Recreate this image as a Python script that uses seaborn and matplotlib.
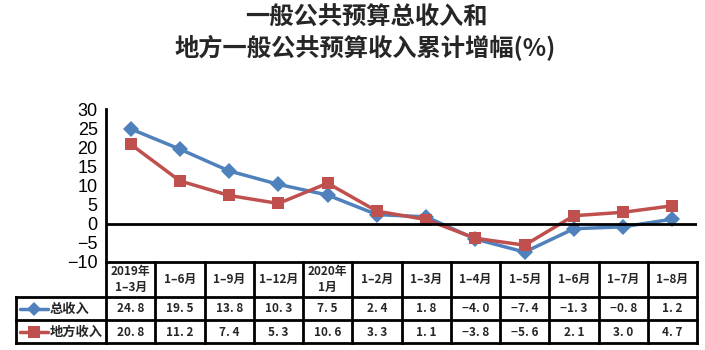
import numpy as np
import pandas as pd
import matplotlib
matplotlib.use("Agg")
import matplotlib.pyplot as plt
import seaborn as sns

periods = ["2019年\n1–3月", "1–6月", "1–9月", "1–12月", "2020年\n1月", "1–2月",
           "1–3月", "1–4月", "1–5月", "1–6月", "1–7月", "1–8月"]
total = [24.8, 19.5, 13.8, 10.3, 7.5, 2.4, 1.8, -4.0, -7.4, -1.3, -0.8, 1.2]
local = [20.8, 11.2, 7.4, 5.3, 10.6, 3.3, 1.1, -3.8, -5.6, 2.1, 3.0, 4.7]
series_names = ["总收入", "地方收入"]
yticks = [-10, -5, 0, 5, 10, 15, 20, 25, 30]
title_lines = ["一般公共预算总收入和", "地方一般公共预算收入累计增幅(%)"]

BLUE = "#4F81BD"
RED = "#C0504D"

sns.set_theme(style="white")
plt.rcParams["font.family"] = ["Noto Sans CJK SC", "DejaVu Sans"]

W, H = 705, 350
fig = plt.figure(figsize=(7.05, 3.5), dpi=100)
fig.patch.set_facecolor("white")


def fx(px):
    return px / W


def fy(py):
    return 1 - py / H


L, R, T, B = 106, 697, 109, 262
ax = fig.add_axes([fx(L), fy(B), fx(R) - fx(L), fy(T) - fy(B)])
n = len(periods)
df = pd.DataFrame({
    "x": list(range(n)) * 2,
    "v": total + local,
    "s": [series_names[0]] * n + [series_names[1]] * n,
})
sns.lineplot(data=df, x="x", y="v", hue="s", style="s",
             markers={series_names[0]: "D", series_names[1]: "s"},
             dashes=False, palette={series_names[0]: BLUE, series_names[1]: RED},
             linewidth=2.5, markersize=8.5, markeredgewidth=0, legend=False, ax=ax)
ax.set_xlim(-0.5, n - 0.5)
ax.set_ylim(-10, 30)
ax.set_yticks(yticks)
ax.set_yticklabels([str(t).replace("-", "−") for t in yticks],
                   fontfamily="Liberation Sans", fontsize=13)
ax.set_xticks([])
ax.set_xlabel("")
ax.set_ylabel("")
for s in ["top", "right", "bottom"]:
    ax.spines[s].set_visible(False)
ax.spines["left"].set_color("black")
ax.spines["left"].set_linewidth(2)
ax.axhline(0, color="black", lw=2)
ax.tick_params(axis="y", direction="in", length=6, width=2, pad=6, colors="black")
ax.set_facecolor("white")

# table
TL, TB = 16, 343
tab = fig.add_axes([fx(TL), fy(TB), fx(R) - fx(TL), fy(B) - fy(TB)])
w = (R - L) / n
x0 = -0.5 - (L - TL) / w
tab.set_xlim(x0, n - 0.5)
tab.set_ylim(TB - B, 0)
tab.axis("off")
hdr, r1, r2 = 35, 58, TB - B
lk = dict(color="black", lw=2, clip_on=False, solid_capstyle="projecting")
tab.plot([-0.5, n - 0.5], [0, 0], **lk)
for yy in [hdr, r1, r2]:
    tab.plot([x0, n - 0.5], [yy, yy], **lk)
tab.plot([x0, x0], [hdr, r2], **lk)
for i in range(n + 1):
    tab.plot([i - 0.5, i - 0.5], [0, r2], **lk)

for i, p in enumerate(periods):
    tab.text(i, hdr / 2, p, ha="center", va="center", fontsize=8.5,
             fontweight="bold", linespacing=1.3)


def fmt(v):
    return f"{v:.1f}".replace("-", "−").replace(".", ". ")


for row, (vals, ymid) in enumerate([(total, (hdr + r1) / 2), (local, (r1 + r2) / 2)]):
    for i, v in enumerate(vals):
        tab.text(i, ymid + 0.5, fmt(v), ha="center", va="center", fontsize=8.5,
                 fontweight="bold")


def px2x(px):
    return x0 + (px - TL) / w


for name, col, mk, ymid in [(series_names[0], BLUE, "D", (hdr + r1) / 2),
                             (series_names[1], RED, "s", (r1 + r2) / 2)]:
    tab.plot([px2x(20), px2x(48)], [ymid, ymid], color=col, lw=2.5, clip_on=False)
    tab.plot([px2x(34)], [ymid], marker=mk, color=col, markersize=7 if mk == "D" else 8,
             markeredgewidth=0, clip_on=False)
    tab.text(px2x(50), ymid + 0.5, name, ha="left", va="center", fontsize=9.5,
             fontweight="bold")

fig.text(fx(366), fy(18), title_lines[0], ha="center", va="center", fontsize=17.5,
         fontweight="bold")
fig.text(fx(365), fy(48), title_lines[1], ha="center", va="center", fontsize=17.5,
         fontweight="bold")

fig.savefig("out.png", dpi=100, facecolor="white")
